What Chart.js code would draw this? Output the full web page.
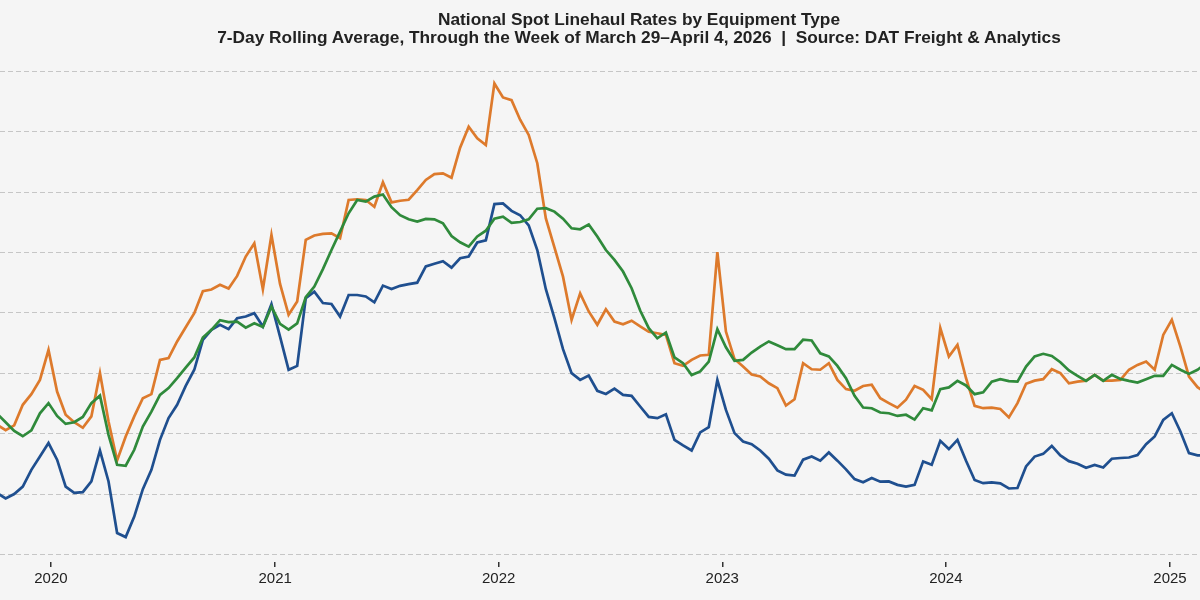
<!DOCTYPE html>
<html>
<head>
<meta charset="utf-8">
<script src="https://cdn.jsdelivr.net/npm/chart.js@4.4.1/dist/chart.umd.min.js"></script>
<style>
  html, body { margin: 0; padding: 0; background: #f5f5f5; }
  #wrap { position: relative; width: 1200px; height: 600px; overflow: hidden; }
  #title {
    position: absolute; left: 0; top: 10px; width: 1278px;
    text-align: center; color: #222;
    font: bold 17.3px "Liberation Sans", Arial, sans-serif;
    line-height: 18px;
  }
  canvas { position: absolute; left: 0; top: 0; }
</style>
</head>
<body>
<div id="wrap">
  <canvas id="chart" width="1200" height="600"></canvas>
  <div id="title">National Spot Linehaul Rates by Equipment Type<br>7-Day Rolling Average, Through the Week of March 29–April 4, 2026&nbsp; |&nbsp; Source: DAT Freight &amp; Analytics</div>
</div>
<script>
// biweekly readings, $/mile linehaul
const weeks = [
  '2019-10-05','2019-10-19','2019-11-02','2019-11-16','2019-11-30','2019-12-14','2019-12-28',
  '2020-01-11','2020-01-25','2020-02-08','2020-02-22','2020-03-07','2020-03-21','2020-04-04','2020-04-18',
  '2020-05-02','2020-05-16','2020-05-30','2020-06-13','2020-06-27','2020-07-11','2020-07-25','2020-08-08',
  '2020-08-22','2020-09-05','2020-09-19','2020-10-03','2020-10-17','2020-10-31','2020-11-14','2020-11-28',
  '2020-12-12','2020-12-26',
  '2021-01-09','2021-01-23','2021-02-06','2021-02-20','2021-03-06','2021-03-20','2021-04-03','2021-04-17',
  '2021-05-01','2021-05-15','2021-05-29','2021-06-12','2021-06-26','2021-07-10','2021-07-24','2021-08-07',
  '2021-08-21','2021-09-04','2021-09-18','2021-10-02','2021-10-16','2021-10-30','2021-11-13','2021-11-27',
  '2021-12-11','2021-12-25',
  '2022-01-08','2022-01-22','2022-02-05','2022-02-19','2022-03-05','2022-03-19','2022-04-02','2022-04-16',
  '2022-04-30','2022-05-14','2022-05-28','2022-06-11','2022-06-25','2022-07-09','2022-07-23','2022-08-06',
  '2022-08-20','2022-09-03','2022-09-17','2022-10-01','2022-10-15','2022-10-29','2022-11-12','2022-11-26',
  '2022-12-10','2022-12-24',
  '2023-01-07','2023-01-21','2023-02-04','2023-02-18','2023-03-04','2023-03-18','2023-04-01','2023-04-15',
  '2023-04-29','2023-05-13','2023-05-27','2023-06-10','2023-06-24','2023-07-08','2023-07-22','2023-08-05',
  '2023-08-19','2023-09-02','2023-09-16','2023-09-30','2023-10-14','2023-10-28','2023-11-11','2023-11-25',
  '2023-12-09','2023-12-23',
  '2024-01-06','2024-01-20','2024-02-03','2024-02-17','2024-03-02','2024-03-16','2024-03-30','2024-04-13',
  '2024-04-27','2024-05-11','2024-05-25','2024-06-08','2024-06-22','2024-07-06','2024-07-20','2024-08-03',
  '2024-08-17','2024-08-31','2024-09-14','2024-09-28','2024-10-12','2024-10-26','2024-11-09','2024-11-23',
  '2024-12-07','2024-12-21',
  '2025-01-04','2025-01-18','2025-02-01','2025-02-15','2025-03-01'
];

const vanRates = [
  1.505,1.483,1.501,1.532,1.601,1.656,1.712,1.643,1.532,1.506,1.509,1.553,1.681,1.553,1.340,1.323,
  1.408,1.521,1.601,1.725,1.815,1.870,1.948,2.015,
  2.139,2.180,2.201,2.183,2.228,2.235,2.249,2.194,2.286,2.152,2.015,2.031,2.311,2.338,2.291,2.287,
  2.235,2.324,2.324,2.318,2.294,2.363,2.349,
  2.362,2.369,2.375,2.442,2.453,2.464,2.437,2.476,2.483,2.541,2.550,2.700,2.703,2.672,2.654,2.612,
  2.510,2.348,2.228,2.100,2.001,1.973,1.991,1.928,
  1.915,1.937,1.911,1.907,1.863,1.820,1.815,1.831,1.725,1.702,1.681,1.756,1.778,1.973,1.849,1.753,
  1.718,1.707,1.681,1.647,1.599,1.581,1.577,
  1.643,1.656,1.639,1.673,1.639,1.603,1.563,1.550,1.567,1.552,1.553,1.539,1.532,1.539,1.636,1.622,
  1.721,1.687,1.725,1.639,1.559,1.546,1.549,
  1.545,1.524,1.526,1.615,1.656,1.667,1.700,1.661,1.637,1.626,1.610,1.621,1.611,1.647,1.650,1.652,
  1.662,1.707,1.739,1.808,1.835,1.760,1.670,1.661,1.661
];

const reeferRates = [
  1.787,1.765,1.785,1.870,1.914,1.973,2.097,1.925,1.829,1.798,1.775,1.822,2.001,1.801,1.640,1.739,
  1.822,1.897,1.914,2.056,2.063,2.132,2.191,2.249,
  2.340,2.347,2.366,2.351,2.403,2.483,2.538,2.348,2.572,2.370,2.242,2.297,2.552,2.570,2.577,2.579,
  2.559,2.717,2.720,2.717,2.689,2.790,2.707,
  2.714,2.718,2.758,2.800,2.824,2.827,2.809,2.933,3.020,2.972,2.944,3.199,3.141,3.130,3.049,2.986,
  2.869,2.641,2.521,2.400,2.221,2.331,2.256,2.201,
  2.265,2.214,2.203,2.218,2.194,2.172,2.166,2.159,2.042,2.031,2.056,2.074,2.077,2.501,2.173,2.059,
  2.028,1.995,1.987,1.959,1.939,1.867,1.893,
  2.042,2.017,2.015,2.042,1.973,1.935,1.928,1.948,1.953,1.897,1.877,1.858,1.891,1.948,1.932,1.893,
  2.187,2.070,2.118,1.980,1.866,1.856,1.858,
  1.853,1.818,1.877,1.957,1.970,1.976,2.017,2.001,1.959,1.966,1.970,1.994,1.970,1.970,1.973,2.015,
  2.035,2.049,2.015,2.159,2.221,2.111,1.987,1.943,1.918
];

const flatbedRates = [
  1.833,1.798,1.762,1.740,1.764,1.835,1.877,1.824,1.791,1.798,1.820,1.877,1.908,1.746,1.622,1.618,
  1.684,1.780,1.842,1.911,1.939,1.980,2.024,2.066,
  2.148,2.180,2.220,2.212,2.214,2.189,2.207,2.192,2.276,2.205,2.181,2.207,2.315,2.359,2.431,2.510,
  2.586,2.662,2.717,2.710,2.731,2.740,2.687,
  2.654,2.637,2.628,2.639,2.637,2.621,2.568,2.542,2.524,2.566,2.590,2.640,2.648,2.622,2.626,2.637,
  2.681,2.683,2.669,2.640,2.600,2.596,2.616,2.566,
  2.510,2.469,2.421,2.352,2.260,2.187,2.145,2.169,2.066,2.042,1.993,2.008,2.049,2.183,2.108,2.052,
  2.056,2.086,2.111,2.132,2.116,2.100,2.100,
  2.139,2.136,2.083,2.070,2.031,1.980,1.907,1.859,1.856,1.838,1.835,1.824,1.829,1.809,1.856,1.847,
  1.935,1.942,1.969,1.950,1.914,1.922,1.966,
  1.976,1.968,1.966,2.028,2.070,2.081,2.072,2.046,2.012,1.990,1.969,1.994,1.969,1.994,1.977,1.969,
  1.962,1.976,1.990,1.990,2.035,2.015,1.998,2.015,2.042
];

const yearTicks = [2020, 2021, 2022, 2023, 2024, 2025];
const rateGrid = [1.25, 1.50, 1.75, 2.00, 2.25, 2.50, 2.75, 3.00, 3.25];

const DAY = 86400000;
const toPoints = values => weeks.map((d, i) => ({ x: Date.parse(d), y: values[i] }));

const bgPlugin = {
  id: 'bg',
  beforeDraw(chart) {
    const ctx = chart.ctx;
    ctx.save();
    ctx.fillStyle = '#f5f5f5';
    ctx.fillRect(0, 0, chart.width, chart.height);
    ctx.restore();
  }
};

const lineStyle = { borderWidth: 2.7, pointRadius: 0, tension: 0, fill: false };

new Chart(document.getElementById('chart'), {
  type: 'line',
  data: {
    datasets: [
      { label: 'Flatbed', data: toPoints(flatbedRates), borderColor: '#2f8a3b', ...lineStyle },
      { label: 'Reefer', data: toPoints(reeferRates), borderColor: '#dd7a2c', ...lineStyle },
      { label: 'Van', data: toPoints(vanRates), borderColor: '#1f4f8f', ...lineStyle }
    ]
  },
  options: {
    responsive: false,
    animation: false,
    layout: { padding: { top: 59, left: 0, right: 0, bottom: 0 } },
    plugins: {
      legend: { display: false },
      title: { display: false },
      tooltip: { enabled: false }
    },
    scales: {
      x: {
        type: 'linear',
        min: Date.UTC(2020, 0, 1) - 83.2 * DAY,
        max: Date.UTC(2025, 0, 1) + 49 * DAY,
        afterBuildTicks: scale => {
          scale.ticks = yearTicks.map(y => ({ value: Date.UTC(y, 0, 1) }));
        },
        afterFit: scale => { scale.height = 38; },
        border: { display: false },
        grid: { drawOnChartArea: false, drawTicks: true, tickLength: 5, color: '#333', lineWidth: 1.5 },
        ticks: {
          autoSkip: false,
          maxRotation: 0,
          padding: 3,
          color: '#222',
          font: { family: '"Liberation Sans", Arial, sans-serif', size: 15 },
          callback: v => new Date(v).getUTCFullYear()
        }
      },
      y: {
        min: 1.22,
        max: 3.30,
        afterBuildTicks: scale => {
          scale.ticks = rateGrid.map(v => ({ value: v }));
        },
        afterFit: scale => { scale.width = 0; },
        border: { display: false, dash: [5, 3] },
        grid: { color: '#c6c6c6', lineWidth: 1, drawTicks: false },
        ticks: { display: false }
      }
    }
  },
  plugins: [bgPlugin]
});
</script>
</body>
</html>
